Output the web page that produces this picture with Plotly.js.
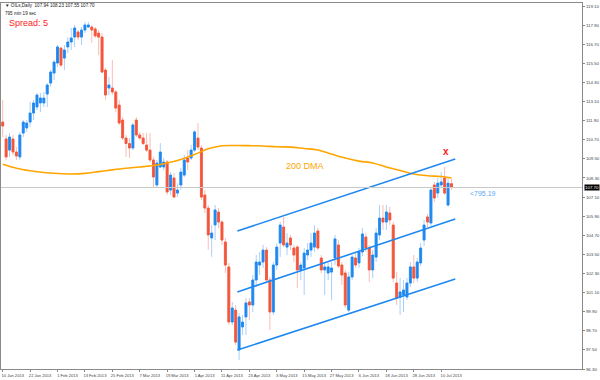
<!DOCTYPE html>
<html><head><meta charset="utf-8">
<script src="https://cdn.plot.ly/plotly-3.0.1.min.js"></script>
<style>html,body{margin:0;padding:0;background:#fff}#chart{width:600px;height:380px}</style>
</head><body><div id="chart"></div>
<script>
// OILs daily candles, one per trading day from 10 Jan 2013
const opens = [111.81,110.75,110.05,110.75,109.93,109.62,111.12,111.44,111.81,112.38,
112.76,113.01,113.01,113.57,114.26,114.89,115.52,116.46,115.83,116.53,
116.84,117.15,117.47,117.15,117.59,117.78,117.78,117.66,117.40,117.15,
115.08,113.95,113.95,113.70,112.88,111.94,110.81,110.46,110.18,111.94,
111.00,110.81,110.37,110.05,109.43,107.86,108.99,108.99,109.30,107.54,
108.30,107.35,107.86,108.48,109.55,109.55,110.05,110.81,110.18,107.23,
106.41,104.53,105.35,106.16,105.53,104.28,102.71,99.25,100.00,97.49,
98.94,99.57,100.51,100.32,101.89,102.83,103.02,103.77,101.89,99.88,
102.83,104.21,105.22,103.96,104.53,103.90,103.96,102.52,102.64,103.46,
103.77,103.96,104.97,103.27,102.52,102.33,102.39,103.27,104.09,102.83,
102.33,100.00,102.08,103.27,102.96,103.65,104.59,103.90,102.52,103.33,
104.72,105.78,105.53,106.10,105.34,101.70,100.82,100.95,100.82,101.70,
102.71,102.01,102.96,104.40,105.85,105.47,107.86,107.35,107.86,108.30,
106.60,107.94];
const highs = [113.20,111.00,111.12,111.00,110.24,111.19,111.94,111.94,113.07,113.20,
113.64,113.64,113.70,114.26,115.08,115.71,116.65,116.53,116.65,117.15,
117.72,117.91,117.59,117.78,118.10,118.10,117.91,117.78,117.59,117.40,
115.21,114.64,115.71,113.82,113.20,112.13,111.00,110.81,111.75,112.13,
111.19,111.12,111.12,111.12,109.62,109.43,110.49,109.55,109.43,108.67,
108.61,107.97,108.93,109.74,110.05,110.37,111.31,111.75,110.37,107.54,
106.60,105.35,106.60,106.41,105.66,104.53,102.96,100.51,100.32,99.82,
99.69,100.76,100.76,102.20,103.46,103.65,104.09,103.96,102.08,103.02,
104.21,105.53,105.85,104.84,104.72,104.09,104.09,103.02,103.90,104.21,
104.84,105.34,105.16,103.46,103.02,102.96,103.02,104.72,104.40,103.02,
102.52,102.39,103.46,103.65,103.90,105.16,104.84,104.09,103.77,105.16,
106.60,106.60,106.60,106.48,105.53,102.39,102.01,101.89,102.01,103.02,
103.46,103.27,104.21,105.66,106.04,107.73,108.05,108.30,108.67,108.99,
108.30,108.23];
const lows = [110.87,109.43,109.62,109.74,109.43,109.43,110.87,111.19,111.50,111.94,
112.57,112.44,112.76,112.76,114.01,114.45,115.27,115.27,115.08,116.15,
116.34,116.53,116.96,116.65,117.40,117.72,116.78,117.09,116.02,114.89,
113.20,113.51,113.51,112.44,111.63,110.68,109.62,109.55,110.05,110.87,
110.68,110.37,109.93,109.30,107.73,107.73,108.93,108.80,107.23,107.23,
107.04,107.10,107.54,108.36,108.80,109.43,109.93,110.05,106.92,106.10,
103.78,103.34,104.40,105.16,104.09,102.33,99.06,99.06,97.81,96.87,
98.44,98.44,99.38,99.88,101.45,102.20,102.64,101.70,98.75,99.69,
102.52,103.34,103.96,103.46,103.77,103.02,101.39,101.89,100.95,103.15,
103.34,103.65,103.77,102.33,100.95,101.89,100.63,102.83,102.64,101.58,
100.13,99.88,101.89,102.64,102.64,103.40,103.65,101.77,102.01,103.02,
104.40,105.03,105.03,105.34,101.77,100.32,99.69,99.88,100.63,101.45,
101.70,101.77,102.77,104.03,105.22,105.28,106.79,107.04,107.67,107.23,
106.48,107.55];
const closes = [111.56,109.62,110.87,109.93,109.68,111.00,111.81,111.75,112.38,113.01,
113.51,113.32,113.32,114.14,114.95,115.58,116.53,115.39,116.34,116.84,
117.09,117.72,117.15,117.59,117.91,117.91,117.59,117.22,117.15,114.95,
113.51,114.14,113.70,112.69,111.75,110.81,110.46,110.18,111.63,111.00,
110.81,110.46,110.05,109.43,108.36,109.24,109.93,109.30,107.42,108.48,
107.10,107.54,108.67,109.43,109.30,110.05,111.19,110.24,107.10,106.41,
104.72,104.84,106.29,105.53,104.40,102.83,99.25,100.13,97.99,99.57,
99.25,100.45,100.32,101.89,103.02,103.02,103.77,101.89,99.88,102.83,
103.96,105.34,104.09,104.21,104.09,103.46,102.52,102.83,103.58,103.77,
104.21,104.84,103.90,102.52,102.71,102.71,102.64,104.47,102.77,102.20,
100.32,102.08,103.33,102.83,103.65,104.78,103.90,102.52,103.46,104.84,
105.78,105.53,106.16,105.66,102.01,100.76,101.14,101.26,101.70,102.71,
102.01,103.02,103.90,105.34,105.53,107.54,107.04,107.97,108.05,107.35,
107.97,107.70];

// date labels, every 8th bar
const tickBars = [0,8,16,24,32,40,48,56,64,72,80,88,96,104,112,120,128];
const tickLabels = ['10 Jan 2013','22 Jan 2013','1 Feb 2013','13 Feb 2013','25 Feb 2013','7 Mar 2013',
'19 Mar 2013','1 Apr 2013','11 Apr 2013','23 Apr 2013','3 May 2013','15 May 2013','27 May 2013',
'6 Jun 2013','18 Jun 2013','28 Jun 2013','10 Jul 2013'];

// 200-day moving average, read at every 4th bar
const dmaBars = [0,4,8,12,16,20,24,28,32,36,40,44,48,52,56,60,64,68,72,76,80,84,88,92,96,100,104,108,112,116,120,124,128,131];
const dmaValues = [109.16,108.91,108.75,108.64,108.58,108.55,108.59,108.70,108.81,108.91,108.99,109.08,109.24,109.46,109.77,110.13,110.32,110.34,110.33,110.31,110.26,110.24,110.15,110.06,109.80,109.55,109.36,109.24,108.99,108.77,108.55,108.44,108.39,108.30];

// regression channel
const channelBars = [68.5, 132.1];
const channelUpper = [104.97, 109.49];
const channelMiddle = [101.14, 105.72];
const channelLower = [97.49, 101.95];

const priceTicks = [96.30,97.50,98.70,99.90,101.10,102.30,103.50,104.70,105.90,107.10,108.30,109.50,110.70,111.90,113.10,114.30,115.50,116.70,117.90,119.10];
const lastPrice = 107.70;
const headerText = '▼ OILs,Daily  107.94 108.23 107.55 107.70';
const timerText = '795 min 19 sec';
const spreadText = 'Spread: 5';
const dmaText = '200 DMA';
const distanceText = '<795.19';

const bars = opens.map((_, i) => i);
const bodyHigh = opens.map((o, i) => Math.max(o, closes[i]));
const bodyLow = opens.map((o, i) => Math.min(o, closes[i]));

const BLUE = '#1E88F0', RED = '#F4553A';
const BLUE_W = '#A8D0FA', RED_W = '#F9BDB2';

const traces = [
  {type:'candlestick', x:bars, open:opens, high:highs, low:lows, close:closes,
   increasing:{line:{color:BLUE_W,width:1}, fillcolor:BLUE_W},
   decreasing:{line:{color:RED_W,width:1}, fillcolor:RED_W},
   hoverinfo:'skip', showlegend:false},
  {type:'candlestick', x:bars, open:opens, high:bodyHigh, low:bodyLow, close:closes,
   increasing:{line:{color:BLUE,width:0.8}, fillcolor:BLUE},
   decreasing:{line:{color:RED,width:0.8}, fillcolor:RED},
   hoverinfo:'skip', showlegend:false},
  {type:'scatter', mode:'lines', x:dmaBars, y:dmaValues, line:{color:'#FFA500', width:1.6, shape:'spline'}, hoverinfo:'skip', showlegend:false},
  {type:'scatter', mode:'lines', x:channelBars, y:channelUpper, line:{color:BLUE, width:1.6}, hoverinfo:'skip', showlegend:false},
  {type:'scatter', mode:'lines', x:channelBars, y:channelMiddle, line:{color:BLUE, width:1.6}, hoverinfo:'skip', showlegend:false},
  {type:'scatter', mode:'lines', x:channelBars, y:channelLower, line:{color:BLUE, width:1.6}, hoverinfo:'skip', showlegend:false}
];

const F = 'Liberation Sans, Arial, sans-serif';
const layout = {
  width:600, height:380,
  margin:{l:1, r:18, t:3, b:11, pad:0},
  paper_bgcolor:'#fff', plot_bgcolor:'#fff',
  showlegend:false,
  boxgap:0.25, boxgroupgap:0.25,
  xaxis:{range:[-0.5,169.1], rangeslider:{visible:false}, showgrid:false, zeroline:false,
    tickmode:'array', tickvals:tickBars, ticktext:tickLabels, tickangle:0, ticks:'outside', ticklen:2, tickcolor:'#888',
    tickfont:{family:F, size:4.1, color:'#444'}, ticklabelshift:10, ticklabelstandoff:0,
    showline:true, mirror:true, linecolor:'#8a8a8a', linewidth:1, fixedrange:true},
  yaxis:{range:[96.30,119.29], side:'right', showgrid:false, zeroline:false,
    tickmode:'array', tickvals:priceTicks, ticktext:priceTicks.map(v=>v.toFixed(2)),
    ticks:'outside', ticklen:2, tickcolor:'#888',
    tickfont:{family:F, size:4.4, color:'#444'},
    showline:true, mirror:true, linecolor:'#8a8a8a', linewidth:1, fixedrange:true},
  shapes:[{type:'line', xref:'paper', x0:0, x1:1, yref:'y', y0:lastPrice, y1:lastPrice, line:{color:'#C8C8C8', width:1}}],
  annotations:[
    {xref:'paper', yref:'paper', x:0.004, y:0.992, xanchor:'left', yanchor:'middle', showarrow:false, text:headerText, font:{family:F, size:4.6, color:'#222'}},
    {xref:'paper', yref:'paper', x:0.004, y:0.970, xanchor:'left', yanchor:'middle', showarrow:false, text:timerText, font:{family:F, size:4.6, color:'#222'}},
    {xref:'paper', yref:'paper', x:0.010, y:0.946, xanchor:'left', yanchor:'middle', showarrow:false, text:spreadText, font:{family:F, size:9, color:'#FF1A1A'}},
    {xref:'paper', yref:'paper', x:0.523, y:0.555, xanchor:'center', yanchor:'middle', showarrow:false, text:dmaText, font:{family:F, size:9, color:'#FFA500'}},
    {xref:'paper', yref:'paper', x:0.803, y:0.480, xanchor:'left', yanchor:'middle', showarrow:false, text:distanceText, font:{family:F, size:7, color:'#5AA5F5'}},
    {xref:'paper', yref:'paper', x:0.766, y:0.593, xanchor:'center', yanchor:'middle', showarrow:false, text:'<b>x</b>', font:{family:F, size:10, color:'#FF1A1A'}},
    {xref:'paper', yref:'y', x:1, y:lastPrice, xanchor:'left', yanchor:'middle', xshift:2, showarrow:false, text:lastPrice.toFixed(2), bgcolor:'#000', borderpad:0, font:{family:F, size:4.4, color:'#fff'}}
  ]
};

Plotly.newPlot('chart', traces, layout, {staticPlot:true, displayModeBar:false});
</script>
</body></html>
